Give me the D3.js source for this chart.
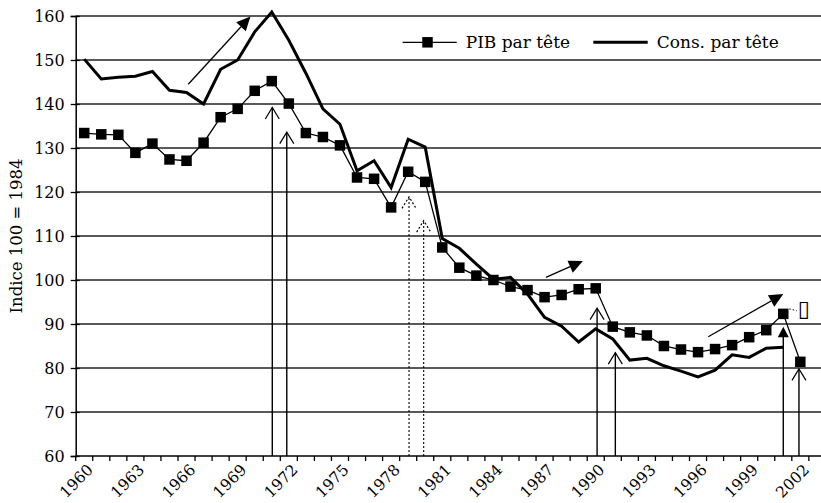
<!DOCTYPE html>
<html>
<head>
<meta charset="utf-8">
<script src="https://cdn.jsdelivr.net/npm/d3@7/dist/d3.min.js"></script>
<style>
  html, body { margin: 0; padding: 0; background: #fff; }
  svg { display: block; }
  text { font-family: "DejaVu Serif", "Liberation Serif", serif; fill: #000; }
</style>
</head>
<body>
<svg id="chart" width="821" height="503"></svg>
<script>
(function () {
// ---------- DATA ----------
const years = d3.range(1960, 2004); // categories (2003 left empty)
const pibParTete = [133.4, 133.1, 133.0, 128.9, 131.0, 127.4, 127.1, 131.2, 137.0, 138.9,
  143.0, 145.2, 140.1, 133.4, 132.5, 130.6, 123.3, 123.0, 116.5, 124.6,
  122.3, 107.4, 102.8, 101.0, 100.0, 98.5, 97.7, 96.1, 96.6, 97.9,
  98.1, 89.4, 88.1, 87.4, 85.0, 84.2, 83.6, 84.3, 85.2, 87.0,
  88.6, 92.3, 81.4];
const consParTete = [150.2, 145.7, 146.1, 146.3, 147.4, 143.1, 142.6, 140.0, 147.9, 150.0,
  156.4, 160.9, 154.5, 147.0, 138.9, 135.4, 124.8, 127.1, 121.0, 132.0,
  130.2, 109.4, 107.2, 103.6, 100.2, 100.6, 96.8, 91.5, 89.5, 85.9,
  88.9, 86.6, 81.8, 82.2, 80.5, 79.3, 78.0, 79.5, 83.0, 82.4,
  84.5, 84.7];
const yTicks = [60, 70, 80, 90, 100, 110, 120, 130, 140, 150, 160];
const xLabelYears = [1960, 1963, 1966, 1969, 1972, 1975, 1978, 1981, 1984, 1987, 1990, 1993, 1996, 1999, 2002];
const seriesNames = ["PIB par tête", "Cons. par tête"];
const yTitle = "Indice 100 = 1984";

// annotations (positions in data units: fractional year, index value)
const verticalArrows = [
  { year: 1971.03, tip: 139.2, head: "open", dash: false },
  { year: 1971.88, tip: 133.6, head: "open", dash: false },
  { year: 1979.05, tip: 118.9, head: "open", dash: true },
  { year: 1979.91, tip: 113.5, head: "open", dash: true },
  { year: 1990.08, tip: 93.6, head: "open", dash: false },
  { year: 1991.15, tip: 83.5, head: "open", dash: false },
  { year: 2001.0, tip: 89.4, head: "filled", dash: false },
  { year: 2001.92, tip: 79.8, head: "open", dash: false }
];
const slantArrows = [
  { x1: 1966.1, y1: 144.5, x2: 1969.75, y2: 159.9 },
  { x1: 1987.08, y1: 100.6, x2: 1989.25, y2: 104.3 },
  { x1: 1996.6, y1: 87.1, x2: 2001.0, y2: 96.8 }
];
const labelNote = { year: 2002.2, value: 93.7, text: "\u25AF" };

// ---------- LAYOUT ----------
const svg = d3.select("#chart");
const W = 821;
const mLeft = 75.7, mTop = 16, mBottom = 456;
const step = 17.05;

const x = d3.scaleBand().domain(years).range([mLeft, mLeft + years.length * step]).paddingInner(0).paddingOuter(0);
const bw = x.bandwidth();
const xc = yr => x(1960) + (yr - 1960) * bw + bw / 2;
const y = d3.scaleLinear().domain([60, 160]).range([mBottom, mTop]);

// gridlines
svg.append("g").selectAll("line").data(yTicks.filter(v => v > 60)).join("line")
  .attr("x1", mLeft).attr("x2", W)
  .attr("y1", d => y(d)).attr("y2", d => y(d))
  .attr("stroke", "#222").attr("stroke-width", 1.4);

// y axis
const yAxis = svg.append("g").attr("transform", `translate(${mLeft},0)`)
  .call(d3.axisLeft(y).tickValues(yTicks).tickSize(5).tickPadding(6));
yAxis.select(".domain").attr("stroke", "#000").attr("stroke-width", 1.5);
yAxis.selectAll(".tick line").attr("stroke", "#000").attr("stroke-width", 1.3).attr("x2", -5).attr("x1", 4);
yAxis.selectAll(".tick text").attr("font-size", 16).attr("font-family", "DejaVu Serif");

// x axis line
svg.append("line").attr("x1", mLeft).attr("x2", W).attr("y1", mBottom).attr("y2", mBottom)
  .attr("stroke", "#000").attr("stroke-width", 1.5);
// x ticks at category boundaries
const boundaries = d3.range(years.length + 1).map(i => x.range()[0] + i * bw);
svg.append("g").selectAll("line").data(boundaries).join("line")
  .attr("x1", d => d).attr("x2", d => d)
  .attr("y1", mBottom).attr("y2", mBottom + 5)
  .attr("stroke", "#000").attr("stroke-width", 1.3);
// x labels
svg.append("g").selectAll("text").data(xLabelYears).join("text")
  .attr("transform", d => `translate(${x(d) + bw / 2 + 6},${mBottom + 11}) rotate(-45)`)
  .attr("text-anchor", "end").attr("dy", "0.35em")
  .attr("font-size", 15.5)
  .text(d => d);

// y title
svg.append("text")
  .attr("transform", `translate(21.5,${(mTop + mBottom) / 2}) rotate(-90)`)
  .attr("text-anchor", "middle").attr("font-size", 16.5)
  .text(yTitle);

// ---------- SERIES ----------
const line = d3.line().x((d, i) => x(years[i]) + bw / 2).y(d => y(d));
svg.append("path").datum(consParTete).attr("d", line)
  .attr("fill", "none").attr("stroke", "#000").attr("stroke-width", 3).attr("stroke-linejoin", "miter");
svg.append("path").datum(pibParTete).attr("d", line)
  .attr("fill", "none").attr("stroke", "#000").attr("stroke-width", 1.3);
const ms = 10.5;
svg.append("g").selectAll("rect").data(pibParTete).join("rect")
  .attr("x", (d, i) => x(years[i]) + bw / 2 - ms / 2)
  .attr("y", d => y(d) - ms / 2)
  .attr("width", ms).attr("height", ms).attr("fill", "#000");

// ---------- ANNOTATIONS ----------
const ann = svg.append("g");
verticalArrows.forEach(a => {
  const ax = xc(a.year), ty = y(a.tip);
  const dash = a.dash ? "2,2" : null;
  if (a.head === "filled") {
    ann.append("line").attr("x1", ax).attr("x2", ax).attr("y1", mBottom).attr("y2", ty + 8)
      .attr("stroke", "#000").attr("stroke-width", 1.4);
    ann.append("path").attr("d", `M${ax},${ty} L${ax - 5.5},${ty + 10.5} L${ax + 5.5},${ty + 10.5} Z`).attr("fill", "#000");
  } else {
    ann.append("line").attr("x1", ax).attr("x2", ax).attr("y1", mBottom).attr("y2", ty)
      .attr("stroke", "#000").attr("stroke-width", a.dash ? 1.1 : 1.4).attr("stroke-dasharray", dash);
    ann.append("path").attr("d", `M${ax - 7},${ty + 11.5} L${ax},${ty} L${ax + 7},${ty + 11.5}`)
      .attr("fill", "none").attr("stroke", "#000").attr("stroke-width", 1.2).attr("stroke-dasharray", dash);
  }
});
slantArrows.forEach(a => {
  const X1 = xc(a.x1), Y1 = y(a.y1), X2 = xc(a.x2), Y2 = y(a.y2);
  const ang = Math.atan2(Y2 - Y1, X2 - X1);
  const L = 14, Hw = 6.5;
  const bx = X2 - L * Math.cos(ang), by = Y2 - L * Math.sin(ang);
  ann.append("line").attr("x1", X1).attr("y1", Y1).attr("x2", bx).attr("y2", by)
    .attr("stroke", "#000").attr("stroke-width", 1.3);
  const px = -Math.sin(ang) * Hw, py = Math.cos(ang) * Hw;
  ann.append("path").attr("d", `M${X2},${Y2} L${bx + px},${by + py} L${bx - px},${by - py} Z`).attr("fill", "#000");
});
// data-label leader & missing glyph
const lastIdx = pibParTete.length - 2; // 2001 point
ann.append("line")
  .attr("x1", xc(years[lastIdx]) + 6).attr("y1", y(pibParTete[lastIdx]) - 5)
  .attr("x2", xc(labelNote.year) - 7).attr("y2", y(labelNote.value) + 3)
  .attr("stroke", "#000").attr("stroke-width", 1).attr("stroke-dasharray", "1.5,2");
ann.append("text").attr("x", xc(labelNote.year)).attr("y", y(labelNote.value))
  .attr("text-anchor", "middle").attr("dy", "0.38em")
  .attr("font-size", 22)
  .style("font-family", "DejaVu Sans")
  .text(labelNote.text);

// ---------- LEGEND ----------
const lg = svg.append("g");
const ly = 42.3;
lg.append("line").attr("x1", 402.7).attr("x2", 456.7).attr("y1", ly).attr("y2", ly)
  .attr("stroke", "#000").attr("stroke-width", 1.3);
lg.append("rect").attr("x", 427.5 - ms / 2).attr("y", ly - ms / 2).attr("width", ms).attr("height", ms).attr("fill", "#000");
lg.append("text").attr("x", 465.7).attr("y", ly).attr("dy", "0.36em").attr("font-size", 17).text(seriesNames[0]);
lg.append("line").attr("x1", 593.3).attr("x2", 647.7).attr("y1", ly).attr("y2", ly)
  .attr("stroke", "#000").attr("stroke-width", 3);
lg.append("text").attr("x", 656.7).attr("y", ly).attr("dy", "0.36em").attr("font-size", 17).text(seriesNames[1]);
})();
</script>
</body>
</html>
